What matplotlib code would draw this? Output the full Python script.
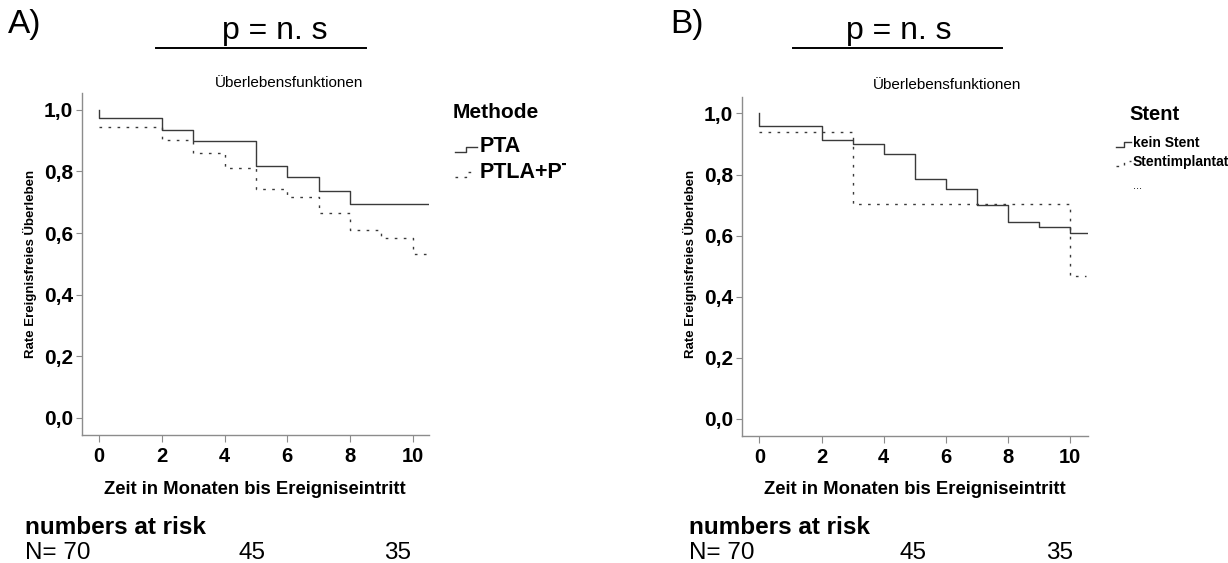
import matplotlib
matplotlib.use("Agg")
import matplotlib.pyplot as plt
from matplotlib.lines import Line2D
from matplotlib.transforms import Bbox, TransformedBbox

plt.rcParams['font.family'] = ['Liberation Sans', 'DejaVu Sans']

# Kaplan-Meier steps, panel A (Methode)
pta_t = [0, 0, 2, 3, 5, 6, 7, 8, 10.53]
pta_s = [1.0, 0.973, 0.935, 0.898, 0.819, 0.781, 0.738, 0.694, 0.694]
ptla_t = [0, 2, 3, 4, 5, 6, 7, 8, 9, 10, 10.45]
ptla_s = [0.944, 0.902, 0.859, 0.81, 0.743, 0.718, 0.664, 0.61, 0.585, 0.532, 0.532]

# panel B (Stent)
kein_t = [0, 0, 2, 3, 4, 5, 6, 7, 8, 9, 10, 10.57]
kein_s = [1.0, 0.96, 0.913, 0.899, 0.866, 0.785, 0.753, 0.699, 0.644, 0.627, 0.609, 0.609]
stent_t = [0, 3, 10, 10.5]
stent_s = [0.939, 0.703, 0.469, 0.469]

xticks = [0, 2, 4, 6, 8, 10]
xticklabels = ['0', '2', '4', '6', '8', '10']
yticks = [0.0, 0.2, 0.4, 0.6, 0.8, 1.0]
yticklabels = ['0,0', '0,2', '0,4', '0,6', '0,8', '1,0']
risk_labels = ['N= 70', '45', '35']

W, H = 1228, 563
LINE = '#3a3a3a'
SPINE = '#8c8c8c'

fig = plt.figure(figsize=(W / 100, H / 100), dpi=100)
fig.patch.set_facecolor('white')


def fx(x):
    return x / W


def fy(y):
    return 1 - y / H


def panel(left, top, right, bottom, xmax):
    ax = fig.add_axes([fx(left), fy(bottom), (right - left) / W, (bottom - top) / H])
    ax.set_xlim(-0.55, xmax)
    ax.set_ylim(-0.056, 1.055)
    for s in ['top', 'right']:
        ax.spines[s].set_visible(False)
    for s in ['left', 'bottom']:
        ax.spines[s].set_color(SPINE)
        ax.spines[s].set_linewidth(1.0)
    ax.set_xticks(xticks)
    ax.set_xticklabels(xticklabels, fontsize=14.5, fontweight='bold')
    ax.set_yticks(yticks)
    ax.set_yticklabels(yticklabels, fontsize=15, fontweight='bold')
    ax.tick_params(axis='x', length=5, color=SPINE, pad=4)
    ax.tick_params(axis='y', length=4.5, color=SPINE, pad=2)
    return ax


def step_line(ax, t, s, dotted=False):
    if dotted:
        ax.step(t, s, where='post', color=LINE, lw=1.0, linestyle=(0, (1.9, 4.6)))
    else:
        ax.step(t, s, where='post', color=LINE, lw=1.0)


def handle(x0, y0, dotted=False, w=22):
    xs = [x0, x0 + w * 0.5, x0 + w * 0.5, x0 + w]
    ys = [y0 + 2, y0 + 2, y0 - 3, y0 - 3]
    ls = (0, (1.9, 4.6)) if dotted else '-'
    fig.add_artist(Line2D([fx(v) for v in xs], [fy(v) for v in ys],
                          transform=fig.transFigure, color=LINE, lw=1.0, linestyle=ls))


# ---- panel A ----
axA = panel(82, 93, 429.3, 435, 10.53)
step_line(axA, pta_t, pta_s)
step_line(axA, ptla_t, ptla_s, dotted=True)

fig.text(fx(8), fy(25), 'A)', fontsize=24, va='center', ha='left')
fig.text(fx(275), fy(31), 'p = n. s', fontsize=23, va='center', ha='center')
fig.add_artist(Line2D([fx(156), fx(366)], [fy(48), fy(48)], transform=fig.transFigure,
                      color='black', lw=1.4))
fig.text(fx(289), fy(83), 'Überlebensfunktionen', fontsize=11, va='center', ha='center')
fig.text(fx(30), fy(264), 'Rate Ereignisfreies Überleben', fontsize=9.5, fontweight='bold',
         rotation=90, va='center', ha='center')
fig.text(fx(255), fy(490), 'Zeit in Monaten bis Ereigniseintritt', fontsize=13.3,
         fontweight='bold', va='center', ha='center')

fig.text(fx(453), fy(112), 'Methode', fontsize=15, fontweight='bold', va='center', ha='left')
fig.text(fx(480), fy(147), 'PTA', fontsize=15.5, fontweight='bold', va='center', ha='left')
tclip = fig.text(fx(480), fy(172), 'PTLA+PT', fontsize=15.5, fontweight='bold',
                 va='center', ha='left')
tclip.set_clip_box(TransformedBbox(Bbox([[0, 0], [fx(566), 1]]), fig.transFigure))
handle(455, 150)
handle(455, 175, dotted=True)

fig.text(fx(25), fy(527), 'numbers at risk', fontsize=17.5, fontweight='bold', va='center', ha='left')
fig.text(fx(25), fy(553), risk_labels[0], fontsize=17.5, va='center', ha='left')
fig.text(fx(252), fy(553), risk_labels[1], fontsize=17.5, va='center', ha='center')
fig.text(fx(398), fy(553), risk_labels[2], fontsize=17.5, va='center', ha='center')

# ---- panel B ----
axB = panel(742.3, 96.7, 1087.7, 435.7, 10.57)
step_line(axB, kein_t, kein_s)
step_line(axB, stent_t, stent_s, dotted=True)

fig.text(fx(670), fy(25), 'B)', fontsize=24, va='center', ha='left')
fig.text(fx(899), fy(31), 'p = n. s', fontsize=23, va='center', ha='center')
fig.add_artist(Line2D([fx(793), fx(1002)], [fy(48), fy(48)], transform=fig.transFigure,
                      color='black', lw=1.4))
fig.text(fx(947), fy(85), 'Überlebensfunktionen', fontsize=11, va='center', ha='center')
fig.text(fx(690), fy(264), 'Rate Ereignisfreies Überleben', fontsize=9.5, fontweight='bold',
         rotation=90, va='center', ha='center')
fig.text(fx(915), fy(490), 'Zeit in Monaten bis Ereigniseintritt', fontsize=13.3,
         fontweight='bold', va='center', ha='center')

fig.text(fx(1129), fy(115), 'Stent', fontsize=14.5, fontweight='bold', va='center', ha='left')
fig.text(fx(1133), fy(143), 'kein Stent', fontsize=10, fontweight='bold', va='center', ha='left')
fig.text(fx(1133), fy(162), 'Stentimplantat', fontsize=10, fontweight='bold', va='center', ha='left')
fig.text(fx(1133), fy(186), '...', fontsize=8, va='center', ha='left')
handle(1116, 145, w=15)
handle(1116, 164, dotted=True, w=15)

fig.text(fx(689), fy(527), 'numbers at risk', fontsize=17.5, fontweight='bold', va='center', ha='left')
fig.text(fx(689), fy(553), risk_labels[0], fontsize=17.5, va='center', ha='left')
fig.text(fx(913), fy(553), risk_labels[1], fontsize=17.5, va='center', ha='center')
fig.text(fx(1060), fy(553), risk_labels[2], fontsize=17.5, va='center', ha='center')

fig.savefig('out.png', dpi=100)
